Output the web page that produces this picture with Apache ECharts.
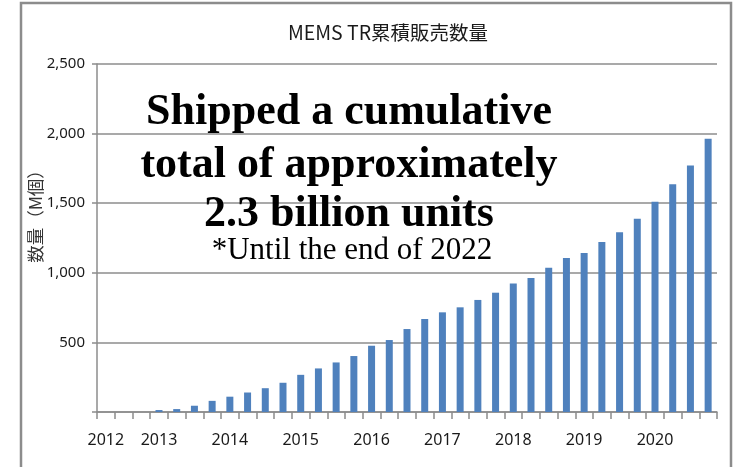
<!DOCTYPE html>
<html>
<head>
<meta charset="utf-8">
<script src="https://cdn.jsdelivr.net/npm/echarts@6/dist/echarts.min.js"></script>
<style>
html,body{margin:0;padding:0;background:#fff;}
#chart{width:733px;height:467px;}
</style>
</head>
<body>
<div id="chart"></div>
<script>
// Quarterly categories (35 quarters)
const quarters = [];
for (let y = 2012; y <= 2020; y++) { for (let q = 1; q <= 4; q++) { quarters.push(y + 'Q' + q); } }
quarters.length = 35;

// Tick labels shown on the x axis and the category index where each appears
const yearLabels = ['2012','2013','2014','2015','2016','2017','2018','2019','2020'];
const yearLabelIndex = [0, 3, 7, 11, 15, 19, 23, 27, 31];

// Cumulative units sold (M units)
const cumulativeUnits = [0, 0, 0, 14, 21, 45, 80, 110, 140, 171, 210, 267, 313, 356, 402, 476, 517, 596,
  668, 716, 752, 805, 857, 924, 963, 1037, 1106, 1142, 1221, 1291, 1389, 1511, 1636, 1770, 1963];

const yTicks = [0, 500, 1000, 1500, 2000, 2500];

const titleText = 'MEMS TR累積販売数量';
const yAxisName = '数量（M個）';
const noteLines = ['Shipped a cumulative', 'total of approximately', '2.3 billion units'];
const noteSub = '*Until the end of 2022';

const chart = echarts.init(document.getElementById('chart'), null, {renderer: 'canvas'});
const narrow = '"Liberation Sans Narrow", "Arial Narrow", "Noto Sans", sans-serif';
const serif = '"Liberation Serif", "Times New Roman", serif';
const cjk = '"Noto Sans CJK JP", sans-serif';

chart.setOption({
  animation: false,
  backgroundColor: '#fff',
  grid: {left: 97, right: 16, top: 64, bottom: 55, containLabel: false},
  xAxis: {
    type: 'category',
    data: quarters,
    boundaryGap: true,
    axisLine: {lineStyle: {color: '#8c8c8c', width: 1.5}},
    axisTick: {show: true, interval: 0, length: 7, lineStyle: {color: '#8c8c8c', width: 1.5}},
    axisLabel: {
      interval: 0,
      margin: 20,
      fontFamily: narrow,
      fontSize: 16,
      color: '#1a1a1a',
      formatter: function (v, i) {
        const k = yearLabelIndex.indexOf(i);
        return k >= 0 ? yearLabels[k] : '';
      }
    },
    splitLine: {show: false}
  },
  yAxis: {
    type: 'value',
    min: yTicks[0],
    max: yTicks[yTicks.length - 1],
    interval: 500,
    axisLine: {show: true, lineStyle: {color: '#8c8c8c', width: 1.5}},
    axisTick: {show: true, length: 5, lineStyle: {color: '#8c8c8c', width: 1.5}},
    axisLabel: {
      margin: 12,
      fontFamily: narrow,
      fontSize: 15,
      color: '#1a1a1a',
      formatter: function (v) { return v === 0 ? '' : v.toLocaleString('en-US'); }
    },
    splitLine: {show: true, lineStyle: {color: '#8c8c8c', width: 1.5}}
  },
  series: [{
    type: 'bar',
    data: cumulativeUnits,
    barWidth: 7,
    itemStyle: {color: '#4f81bd'}
  }],
  graphic: [
    {type: 'rect', silent: true, z: 100,
      shape: {x: 21, y: 3, width: 710, height: 480},
      style: {fill: 'none', stroke: '#8c8c8c', lineWidth: 2.5}},
    {type: 'text', z: 100, x: 388, y: 33,
      style: {text: titleText, fontFamily: cjk, fontSize: 19.5, fill: '#1a1a1a', align: 'center', verticalAlign: 'middle'}},
    {type: 'text', z: 100, x: 35, y: 212, rotation: Math.PI / 2,
      style: {text: yAxisName, fontFamily: cjk, fontSize: 17.5, fill: '#333', align: 'center', verticalAlign: 'middle'}},
    {type: 'text', z: 100, x: 349, y: 113,
      style: {text: noteLines[0], fontFamily: serif, fontWeight: 'bold', fontSize: 44, fill: '#000', align: 'center', verticalAlign: 'middle'}},
    {type: 'text', z: 100, x: 349, y: 166,
      style: {text: noteLines[1], fontFamily: serif, fontWeight: 'bold', fontSize: 44, fill: '#000', align: 'center', verticalAlign: 'middle'}},
    {type: 'text', z: 100, x: 349, y: 215,
      style: {text: noteLines[2], fontFamily: serif, fontWeight: 'bold', fontSize: 44, fill: '#000', align: 'center', verticalAlign: 'middle'}},
    {type: 'text', z: 100, x: 352, y: 251,
      style: {text: noteSub, fontFamily: serif, fontSize: 31, fill: '#000', align: 'center', verticalAlign: 'middle'}}
  ]
});
</script>
</body>
</html>
